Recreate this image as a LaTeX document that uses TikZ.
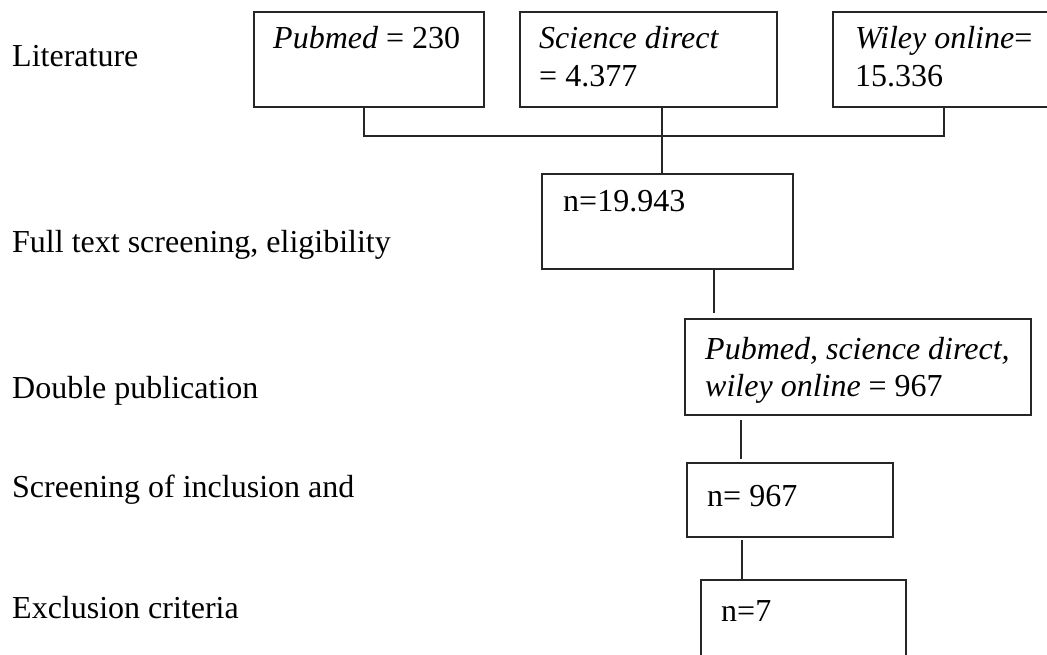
\documentclass[tikz,border=0pt]{standalone}
\usepackage{fontspec}
\setmainfont{Liberation Serif}
\begin{document}
\begin{tikzpicture}[x=1pt,y=-1pt,
  box/.style={draw=black!85, line width=1.4pt, anchor=north west, inner sep=0pt, outer sep=0pt},
  txt/.style={anchor=base west, inner sep=0pt, font=\fontsize{32}{37}\selectfont},
  conn/.style={draw=black!85, line width=1.4pt}]
\clip (0,0) rectangle (1047,655);
\fill[white] (0,0) rectangle (1047,655);
% left labels
\node[txt] (l1) at (12,67) {Literature};
\node[txt] (l2) at (12,252) {Full text screening, eligibility};
\node[txt] (l3) at (12,398) {Double publication};
\node[txt] (l4) at (12,497) {Screening of inclusion and};
\node[txt] (l5) at (12,618) {Exclusion criteria};
% boxes
\node[box, minimum width=230pt, minimum height=95pt] (pub) at (254,12) {};
\node[box, minimum width=257pt, minimum height=95pt] (sci) at (520,12) {};
\node[box, minimum width=225pt, minimum height=95pt] (wil) at (833,12) {};
\node[box, minimum width=251pt, minimum height=95pt] (n19) at (542,174) {};
\node[box, minimum width=346pt, minimum height=96pt] (dbl) at (685,319) {};
\node[box, minimum width=206pt, minimum height=74pt] (n967) at (687,463) {};
\node[box, minimum width=205pt, minimum height=120pt] (n7) at (701,580) {};
% box texts
\node[txt] (tpub) at (273,49) {\textit{Pubmed} = 230};
\node[txt] (tsci1) at (539,49) {\textit{Science direct}};
\node[txt] (tsci2) at (539,87) {= 4.377};
\node[txt] (twil1) at (855,49) {\textit{Wiley online}=};
\node[txt] (twil2) at (855,87) {15.336};
\node[txt] (tn19) at (563,212) {n=19.943};
\node[txt] (tdbl1) at (705,359) {\textit{Pubmed, science direct,}};
\node[txt] (tdbl2) at (705,396) {\textit{wiley online} = 967};
\node[txt] (tn967) at (707,506) {n= 967};
\node[txt] (tn7) at (721,621) {n=7};
% connectors
\coordinate (j) at (364,136);
\coordinate (k) at (944,136);
\draw[conn] (pub.south -| j) -- (j) -- (k) -- (wil.south -| k);
\draw[conn] (sci.south -| 662,0) -- (n19.north -| 662,0);
\draw[conn, shorten >=6pt] (n19.south -| 714,0) -- (dbl.north -| 714,0);
\draw[conn, shorten <=5pt, shorten >=4pt] (dbl.south -| 741,0) -- (n967.north -| 741,0);
\draw[conn, shorten <=3pt] (n967.south -| 742,0) -- (n7.north -| 742,0);
\end{tikzpicture}
\end{document}
